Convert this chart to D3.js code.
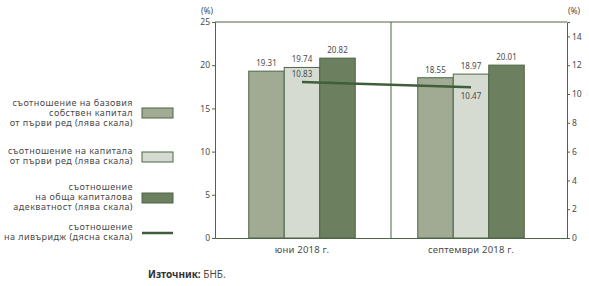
<!DOCTYPE html>
<html>
<head>
<meta charset="utf-8">
<script src="https://cdn.jsdelivr.net/npm/d3@7"></script>
<style>
body { margin: 0; background: #fff; }
text { font-family: "Noto Sans", sans-serif; fill: #4a4a4a; }
</style>
</head>
<body>
<svg id="chart" width="589" height="286"></svg>
<script>
// data
var categories = ["юни 2018 г.", "септември 2018 г."];
var seriesNames = [
    ["съотношение на базовия", "собствен капитал", "от първи ред (лява скала)"],
    ["съотношение на капитала", "от първи ред (лява скала)"],
    ["съотношение", "на обща капиталова", "адекватност (лява скала)"],
    ["съотношение", "на ливъридж (дясна скала)"]
];
var cet1 = [19.31, 18.55];
var tier1 = [19.74, 18.97];
var totalCap = [20.82, 20.01];
var leverage = [10.83, 10.47];
var leftTicks = [0, 5, 10, 15, 20, 25];
var rightTicks = [0, 2, 4, 6, 8, 10, 12, 14];

var barColors = ["#a1ab93", "#d6dbd1", "#6c8060"];
var strokeCol = "#4d6645";
var axisCol = "#4d6645";

var svg = d3.select("#chart");
var plotLeft = 215, plotRight = 567, plotTop = 22, plotBottom = 238;

var x = d3.scaleBand().domain(categories).range([plotLeft, plotRight]);
var yL = d3.scaleLinear().domain([0, 25]).range([plotBottom, plotTop]);
var yR = d3.scaleLinear().domain([0, 15]).range([plotBottom, plotTop]);

var barW = 35.5;
var groupShift = [-1, -8];   // bars sit a bit left of band centre
var bars = [cet1, tier1, totalCap];

// frame: top line and middle divider
svg.append("line").attr("x1", plotLeft).attr("x2", plotRight).attr("y1", plotTop).attr("y2", plotTop)
    .attr("stroke", axisCol).attr("stroke-width", 1);
svg.append("line").attr("x1", x(categories[1])).attr("x2", x(categories[1]))
    .attr("y1", plotTop).attr("y2", plotBottom).attr("stroke", axisCol).attr("stroke-width", 1);

// bars
categories.forEach(function(c, ci) {
    var cx = x(c) + x.bandwidth() / 2 + groupShift[ci];
    bars.forEach(function(s, si) {
        var bx = cx - 1.5 * barW + si * barW;
        svg.append("rect")
            .attr("x", bx).attr("y", yL(s[ci]))
            .attr("width", barW).attr("height", plotBottom - yL(s[ci]))
            .attr("fill", barColors[si]).attr("stroke", strokeCol).attr("stroke-width", 1);
        svg.append("text")
            .attr("x", bx + barW / 2).attr("y", yL(s[ci]) - 5)
            .attr("text-anchor", "middle").attr("font-size", 8)
            .text(s[ci].toFixed(2));
    });
});

// leverage line
var lineX = categories.map(function(c, ci) { return x(c) + x.bandwidth() / 2 + groupShift[ci]; });
svg.append("path")
    .attr("d", d3.line()(leverage.map(function(v, i) { return [lineX[i], yR(v)]; })))
    .attr("stroke", "#3f5f3a").attr("stroke-width", 2.5).attr("fill", "none");
svg.append("text").attr("x", lineX[0]).attr("y", yR(leverage[0]) - 5)
    .attr("text-anchor", "middle").attr("font-size", 8).text(leverage[0].toFixed(2));
svg.append("text").attr("x", lineX[1]).attr("y", yR(leverage[1]) + 12)
    .attr("text-anchor", "middle").attr("font-size", 8).text(leverage[1].toFixed(2));

// axes
var axL = svg.append("g").attr("transform", "translate(" + plotLeft + ",0)")
    .call(d3.axisLeft(yL).tickValues(leftTicks).tickSize(3).tickPadding(2));
var axR = svg.append("g").attr("transform", "translate(" + plotRight + ",0)")
    .call(d3.axisRight(yR).tickValues(rightTicks).tickSize(3).tickPadding(2));
var axB = svg.append("g").attr("transform", "translate(0," + plotBottom + ")")
    .call(d3.axisBottom(x).tickSize(0).tickPadding(8));
[axL, axR, axB].forEach(function(a) {
    a.select(".domain").attr("stroke", axisCol);
    a.selectAll(".tick line").attr("stroke", axisCol);
    a.selectAll("text").attr("font-size", 8.5).attr("fill", "#4a4a4a")
        .attr("font-family", "Noto Sans, sans-serif");
});
axB.selectAll("text").attr("font-size", 9.5).attr("letter-spacing", 0.2);
axB.selectAll(".tick").attr("transform", function(d, i) {
    return "translate(" + lineX[i] + ",0)";
});

svg.append("text").attr("x", 207).attr("y", 14).attr("text-anchor", "middle")
    .attr("font-size", 8.5).text("(%)");
svg.append("text").attr("x", 574).attr("y", 14).attr("text-anchor", "middle")
    .attr("font-size", 8.5).text("(%)");

// legend
var legTextY = [[106, 116, 126], [154, 163.5], [190, 200, 210], [230, 240]];
var swatchY = [113, 157, 198, 233];
seriesNames.forEach(function(lines, i) {
    lines.forEach(function(t, j) {
        svg.append("text").attr("x", 133).attr("y", legTextY[i][j])
            .attr("text-anchor", "end").attr("font-size", 9)
            .attr("letter-spacing", 0.45).text(t);
    });
    if (i < 3) {
        svg.append("rect").attr("x", 142).attr("y", swatchY[i] - 5)
            .attr("width", 31).attr("height", 10)
            .attr("fill", barColors[i]).attr("stroke", strokeCol).attr("stroke-width", 1);
    } else {
        svg.append("line").attr("x1", 142).attr("x2", 173)
            .attr("y1", swatchY[i]).attr("y2", swatchY[i])
            .attr("stroke", "#3f5f3a").attr("stroke-width", 2.5);
    }
});

// source
var src = svg.append("text").attr("x", 148).attr("y", 278).attr("font-size", 10);
src.append("tspan").attr("font-weight", "bold").attr("fill", "#333").text("Източник:");
src.append("tspan").text(" БНБ.");
</script>
</body>
</html>
